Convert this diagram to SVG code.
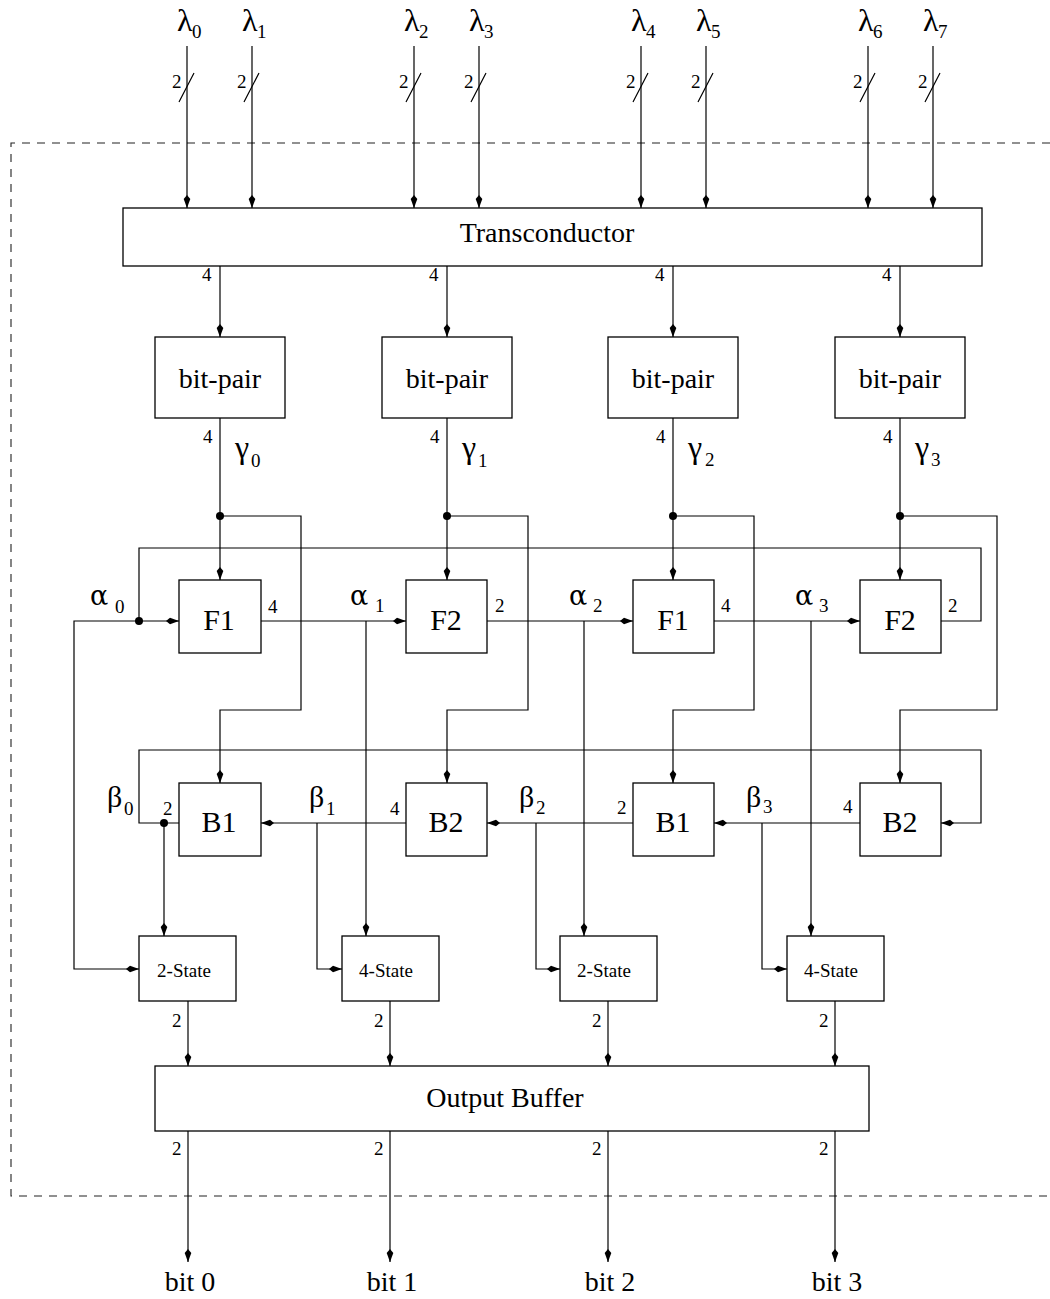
<svg xmlns="http://www.w3.org/2000/svg" width="1050" height="1299" viewBox="0 0 1050 1299">
<style>
.box{fill:#fff;stroke:#000;stroke-width:1.3}
.ln{fill:none;stroke:#000;stroke-width:1.2}
.ar{marker-end:url(#ah)}
.dash{fill:none;stroke:#222;stroke-width:1.1;stroke-dasharray:8 7}
text{font-family:"Liberation Serif","Times New Roman",serif;fill:#000}
.big{font-size:28px}
.blk{font-size:30px}
.gr{font-size:32px}
.al{font-family:"DejaVu Serif","Liberation Serif",serif;font-size:27px}
.sm{font-size:19px}
.st{font-size:19px}
.sub{font-size:19px}
.c{text-anchor:middle}
</style>
<defs>
<marker id="ah" markerUnits="userSpaceOnUse" viewBox="-14 -4 15 8" refX="0" refY="0" markerWidth="15" markerHeight="8" orient="auto">
<path d="M0,0 L-9,-3.3 L-13,0 L-9,3.3 Z" fill="#000"/>
</marker>
</defs>
<rect width="1050" height="1299" fill="#fff"/>
<path class="dash" d="M1050,143 H11 V1196 H1050"/>

<g id="connectors">
<path class="ln ar" d="M187,46 V208"/>
<path class="ln ar" d="M252,46 V208"/>
<path class="ln ar" d="M414,46 V208"/>
<path class="ln ar" d="M479,46 V208"/>
<path class="ln ar" d="M641,46 V208"/>
<path class="ln ar" d="M706,46 V208"/>
<path class="ln ar" d="M868,46 V208"/>
<path class="ln ar" d="M933,46 V208"/>
<path class="ln" d="M179,102 L194,73 M244,102 L259,73 M406,102 L421,73 M471,102 L486,73 M633,102 L648,73 M698,102 L713,73 M860,102 L875,73 M925,102 L940,73"/>
<path class="ln ar" d="M220,266 V337"/>
<path class="ln ar" d="M447,266 V337"/>
<path class="ln ar" d="M673,266 V337"/>
<path class="ln ar" d="M900,266 V337"/>
<path class="ln ar" d="M220,418 V580"/>
<path class="ln ar" d="M447,418 V580"/>
<path class="ln ar" d="M673,418 V580"/>
<path class="ln ar" d="M900,418 V580"/>
<path class="ln ar" d="M220,516 H301 V710 H220 V783"/>
<path class="ln ar" d="M447,516 H528 V710 H447 V783"/>
<path class="ln ar" d="M673,516 H754 V710 H673 V783"/>
<path class="ln ar" d="M900,516 H997 V710 H900 V783"/>
<path class="ln" d="M941,621 H981 V548 H139 V621"/>
<path class="ln ar" d="M139,621 H179"/>
<path class="ln ar" d="M139,621 H74 V969 H139"/>
<path class="ln ar" d="M261,621 H406"/>
<path class="ln ar" d="M366,621 V936"/>
<path class="ln ar" d="M487,621 H633"/>
<path class="ln ar" d="M584,621 V936"/>
<path class="ln ar" d="M714,621 H860"/>
<path class="ln ar" d="M811,621 V936"/>
<path class="ln ar" d="M179,823 H139 V750 H981 V823 H941"/>
<path class="ln ar" d="M164,823 V936"/>
<path class="ln ar" d="M406,823 H261"/>
<path class="ln ar" d="M317,823 V969 H342"/>
<path class="ln ar" d="M633,823 H487"/>
<path class="ln ar" d="M536,823 V969 H560"/>
<path class="ln ar" d="M860,823 H714"/>
<path class="ln ar" d="M762,823 V969 H787"/>
<path class="ln ar" d="M188,1001 V1066"/>
<path class="ln ar" d="M390,1001 V1066"/>
<path class="ln ar" d="M608,1001 V1066"/>
<path class="ln ar" d="M835,1001 V1066"/>
<path class="ln ar" d="M188,1131 V1262"/>
<path class="ln ar" d="M390,1131 V1262"/>
<path class="ln ar" d="M608,1131 V1262"/>
<path class="ln ar" d="M835,1131 V1262"/>
<circle cx="220" cy="516" r="4"/>
<circle cx="447" cy="516" r="4"/>
<circle cx="673" cy="516" r="4"/>
<circle cx="900" cy="516" r="4"/>
<circle cx="139" cy="621" r="4"/>
<circle cx="164" cy="823" r="4"/>
</g>

<g id="transconductor"><rect class="box" x="123" y="208" width="859" height="58"/><text class="big c" x="547" y="242">Transconductor</text></g>

<g id="bitpair0"><rect class="box" x="155" y="337" width="130" height="81"/><text class="big c" x="220" y="388">bit-pair</text></g>
<g id="bitpair1"><rect class="box" x="382" y="337" width="130" height="81"/><text class="big c" x="447" y="388">bit-pair</text></g>
<g id="bitpair2"><rect class="box" x="608" y="337" width="130" height="81"/><text class="big c" x="673" y="388">bit-pair</text></g>
<g id="bitpair3"><rect class="box" x="835" y="337" width="130" height="81"/><text class="big c" x="900" y="388">bit-pair</text></g>

<g id="F1a"><rect class="box" x="179" y="580" width="82" height="73"/><text class="blk c" x="219" y="630">F1</text></g>
<g id="F2a"><rect class="box" x="406" y="580" width="81" height="73"/><text class="blk c" x="446" y="630">F2</text></g>
<g id="F1b"><rect class="box" x="633" y="580" width="81" height="73"/><text class="blk c" x="673" y="630">F1</text></g>
<g id="F2b"><rect class="box" x="860" y="580" width="81" height="73"/><text class="blk c" x="900" y="630">F2</text></g>

<g id="B1a"><rect class="box" x="179" y="783" width="82" height="73"/><text class="blk c" x="219" y="832">B1</text></g>
<g id="B2a"><rect class="box" x="406" y="783" width="81" height="73"/><text class="blk c" x="446" y="832">B2</text></g>
<g id="B1b"><rect class="box" x="633" y="783" width="81" height="73"/><text class="blk c" x="673" y="832">B1</text></g>
<g id="B2b"><rect class="box" x="860" y="783" width="81" height="73"/><text class="blk c" x="900" y="832">B2</text></g>

<g id="state0"><rect class="box" x="139" y="936" width="97" height="65"/><text class="st c" x="184" y="977">2-State</text></g>
<g id="state1"><rect class="box" x="342" y="936" width="97" height="65"/><text class="st c" x="386" y="977">4-State</text></g>
<g id="state2"><rect class="box" x="560" y="936" width="97" height="65"/><text class="st c" x="604" y="977">2-State</text></g>
<g id="state3"><rect class="box" x="787" y="936" width="97" height="65"/><text class="st c" x="831" y="977">4-State</text></g>

<g id="outputbuffer"><rect class="box" x="155" y="1066" width="714" height="65"/><text class="big c" x="505" y="1107">Output Buffer</text></g>

<g id="labels">
<text class="gr" x="177" y="31">λ</text><text class="sub" x="192" y="38">0</text>
<text class="gr" x="242" y="31">λ</text><text class="sub" x="257" y="38">1</text>
<text class="gr" x="404" y="31">λ</text><text class="sub" x="419" y="38">2</text>
<text class="gr" x="469" y="31">λ</text><text class="sub" x="484" y="38">3</text>
<text class="gr" x="631" y="31">λ</text><text class="sub" x="646" y="38">4</text>
<text class="gr" x="696" y="31">λ</text><text class="sub" x="711" y="38">5</text>
<text class="gr" x="858" y="31">λ</text><text class="sub" x="873" y="38">6</text>
<text class="gr" x="923" y="31">λ</text><text class="sub" x="938" y="38">7</text>
<text class="sm" x="172" y="88">2</text>
<text class="sm" x="237" y="88">2</text>
<text class="sm" x="399" y="88">2</text>
<text class="sm" x="464" y="88">2</text>
<text class="sm" x="626" y="88">2</text>
<text class="sm" x="691" y="88">2</text>
<text class="sm" x="853" y="88">2</text>
<text class="sm" x="918" y="88">2</text>
<text class="sm" x="202" y="281">4</text>
<text class="sm" x="429" y="281">4</text>
<text class="sm" x="655" y="281">4</text>
<text class="sm" x="882" y="281">4</text>
<text class="sm" x="203" y="443">4</text>
<text class="sm" x="430" y="443">4</text>
<text class="sm" x="656" y="443">4</text>
<text class="sm" x="883" y="443">4</text>
<text class="gr" x="235" y="458">γ</text><text class="sub" x="251" y="467">0</text>
<text class="gr" x="462" y="458">γ</text><text class="sub" x="478" y="467">1</text>
<text class="gr" x="688" y="458">γ</text><text class="sub" x="705" y="466">2</text>
<text class="gr" x="915" y="458">γ</text><text class="sub" x="931" y="466">3</text>
<text class="al" x="90" y="605">α</text><text class="sub" x="115" y="613">0</text>
<text class="al" x="350" y="605">α</text><text class="sub" x="375" y="612">1</text>
<text class="al" x="569" y="605">α</text><text class="sub" x="593" y="612">2</text>
<text class="al" x="795" y="605">α</text><text class="sub" x="819" y="612">3</text>
<text class="sm" x="268" y="613">4</text>
<text class="sm" x="495" y="612">2</text>
<text class="sm" x="721" y="612">4</text>
<text class="sm" x="948" y="612">2</text>
<text class="blk" x="107" y="807">β</text><text class="sub" x="124" y="815">0</text>
<text class="blk" x="309" y="807">β</text><text class="sub" x="326" y="815">1</text>
<text class="blk" x="519" y="807">β</text><text class="sub" x="536" y="814">2</text>
<text class="blk" x="746" y="807">β</text><text class="sub" x="763" y="813">3</text>
<text class="sm" x="163" y="815">2</text>
<text class="sm" x="390" y="815">4</text>
<text class="sm" x="617" y="814">2</text>
<text class="sm" x="843" y="813">4</text>
<text class="sm" x="172" y="1027">2</text>
<text class="sm" x="374" y="1027">2</text>
<text class="sm" x="592" y="1027">2</text>
<text class="sm" x="819" y="1027">2</text>
<text class="sm" x="172" y="1155">2</text>
<text class="sm" x="374" y="1155">2</text>
<text class="sm" x="592" y="1155">2</text>
<text class="sm" x="819" y="1155">2</text>
<text class="big c" x="190" y="1291">bit 0</text>
<text class="big c" x="392" y="1291">bit 1</text>
<text class="big c" x="610" y="1291">bit 2</text>
<text class="big c" x="837" y="1291">bit 3</text>
</g>
</svg>
